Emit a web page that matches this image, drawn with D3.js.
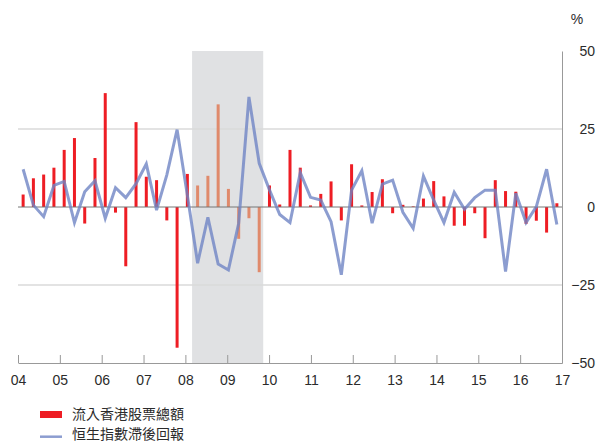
<!DOCTYPE html>
<html>
<head>
<meta charset="utf-8">
<script src="https://cdn.jsdelivr.net/npm/d3@7/dist/d3.min.js"></script>
<style>
  html, body { margin: 0; padding: 0; background: #fff; }
  svg { display: block; }
  .num { font-family: "Liberation Sans", Arial, Helvetica, sans-serif; font-size: 14px; fill: #2b2b2b; }
  .leg { font-family: "Noto Sans CJK TC", "Noto Sans CJK SC", sans-serif; font-size: 14px; fill: #2b2b2b; }
</style>
</head>
<body>
<svg id="chart" width="596" height="443"></svg>
<script>
// Quarters from 2004 Q1 to 2017 Q1
const quarters = [
  "04Q1","04Q2","04Q3","04Q4","05Q1","05Q2","05Q3","05Q4",
  "06Q1","06Q2","06Q3","06Q4","07Q1","07Q2","07Q3","07Q4",
  "08Q1","08Q2","08Q3","08Q4","09Q1","09Q2","09Q3","09Q4",
  "10Q1","10Q2","10Q3","10Q4","11Q1","11Q2","11Q3","11Q4",
  "12Q1","12Q2","12Q3","12Q4","13Q1","13Q2","13Q3","13Q4",
  "14Q1","14Q2","14Q3","14Q4","15Q1","15Q2","15Q3","15Q4",
  "16Q1","16Q2","16Q3","16Q4","17Q1"
];

// Total inflows into Hong Kong equities (bars, %)
const inflows = [
   4.0,  9.2, 10.4, 12.6, 18.3, 22.1, -5.3, 15.7,
  36.5, -1.8,-19.0, 27.2,  9.7,  8.6, -4.3,-45.1,
  10.6,  6.9, 10.0, 32.9,  5.8,-10.2, -3.6,-20.9,
   6.9,  0.8, 18.3, 12.6,  0.5,  4.2,  8.2, -4.3,
  13.7,  0.5,  4.8,  8.9, -2.0,  0.7,  0.2,  2.7,
   8.3,  3.4, -6.0, -6.0, -2.0,-10.0,  8.6,  5.1,
   4.9, -5.4, -4.4, -8.2,  1.2
];

// Lagged Hang Seng Index return (line, %)
const hsiReturn = [
  12.1,  0.6, -3.1,  6.9,  8.2, -5.0,  4.9,  8.4,
  -3.6,  6.2,  3.0,  7.5, 13.8, -1.0, 10.3, 24.8,
   3.8,-18.0, -3.3,-18.3,-20.2, -5.2, 35.3, 14.0,
   5.5, -2.4, -5.0, 11.0,  3.1,  2.2, -4.7,-21.7,
   5.4, 11.6, -5.2,  7.3,  8.6, -1.7, -6.8,  9.9,
   2.2, -5.0,  4.7, -0.7,  3.0,  5.4,  5.4,-20.7,
   4.4, -5.0,  0.1, 12.1, -5.6
];

// Quarters drawn in the crisis colour
const crisisQuarters = ["08Q2","08Q3","08Q4","09Q1","09Q2","09Q3","09Q4"];

// Shaded crisis period, in decimal years
const crisisSpan = [2008.16, 2009.86];

const yearTicks = [2004,2005,2006,2007,2008,2009,2010,2011,2012,2013,2014,2015,2016,2017];
const valueTicks = [-50, -25, 0, 25, 50];

const seriesNames = ["流入香港股票總額", "恒生指數滯後回報"];

const plotLeft = 18, plotRight = 562, plotTop = 51, plotBottom = 363;

const svg = d3.select("#chart");

const x = d3.scaleBand().domain(quarters).range([plotLeft, plotRight]).padding(0);
const xYear = d3.scaleLinear().domain([2004, 2017]).range([plotLeft, plotRight]);
const y = d3.scaleLinear().domain([-50, 50]).range([plotBottom, plotTop]);

// crisis shading
svg.append("rect")
  .attr("x", xYear(crisisSpan[0]))
  .attr("y", y(50))
  .attr("width", xYear(crisisSpan[1]) - xYear(crisisSpan[0]))
  .attr("height", y(-50) - y(50))
  .attr("fill", "#e0e1e3");

// gridlines at ±25
svg.append("g").selectAll("line")
  .data([25, -25])
  .join("line")
  .attr("x1", plotLeft).attr("x2", plotRight)
  .attr("y1", d => y(d)).attr("y2", d => y(d))
  .attr("stroke", "#dadada")
  .attr("stroke-width", 1.5);

// bars
const barW = 3;
svg.append("g").selectAll("rect")
  .data(quarters.map((q, i) => ({ q, v: inflows[i] })))
  .join("rect")
  .attr("x", d => x(d.q) + x.bandwidth() / 2 - barW / 2)
  .attr("width", barW)
  .attr("y", d => y(Math.max(0, d.v)))
  .attr("height", d => Math.abs(y(d.v) - y(0)))
  .attr("fill", d => crisisQuarters.includes(d.q) ? "#e08a6c" : "#ee1d24");

// zero line
svg.append("line")
  .attr("x1", plotLeft).attr("x2", plotRight)
  .attr("y1", y(0)).attr("y2", y(0))
  .attr("stroke", "#777")
  .attr("stroke-width", 1);

// HSI line
const line = d3.line()
  .x((d, i) => x(quarters[i]) + x.bandwidth() / 2)
  .y(d => y(d));
svg.append("path")
  .datum(hsiReturn)
  .attr("d", line)
  .attr("fill", "none")
  .attr("stroke", "rgb(111,132,196)")
  .attr("stroke-opacity", 0.8)
  .attr("stroke-width", 3)
  .attr("stroke-linejoin", "miter");

// bottom axis with inward ticks
const xAxis = d3.axisBottom(xYear)
  .tickValues(yearTicks)
  .tickFormat(d => String(d % 100).padStart(2, "0"))
  .tickSizeInner(-8)
  .tickSizeOuter(0)
  .tickPadding(12);
const gx = svg.append("g")
  .attr("transform", `translate(0,${plotBottom})`)
  .call(xAxis);
gx.attr("font-family", null).attr("font-size", null);
gx.select(".domain").attr("stroke", "#999");
gx.selectAll(".tick line").attr("stroke", "#999");
gx.selectAll(".tick text").attr("class", "num");

// right axis
const yAxis = d3.axisRight(y)
  .tickValues(valueTicks)
  .tickSize(0)
  .tickSizeOuter(0);
const gy = svg.append("g")
  .attr("transform", `translate(${plotRight},0)`)
  .call(yAxis);
gy.attr("font-family", null).attr("font-size", null);
gy.select(".domain").attr("stroke", "#999");
gy.selectAll(".tick text")
  .attr("class", "num")
  .attr("x", 595 - plotRight)
  .attr("text-anchor", "end");

svg.append("text")
  .attr("class", "num")
  .attr("x", 577).attr("y", 24)
  .attr("text-anchor", "middle")
  .text("%");

// legend
const leg = svg.append("g");
leg.append("rect")
  .attr("x", 40).attr("y", 411).attr("width", 22).attr("height", 7)
  .attr("fill", "#ee1d24");
leg.append("text")
  .attr("class", "leg")
  .attr("x", 72).attr("y", 418.5)
  .text(seriesNames[0]);
leg.append("line")
  .attr("x1", 40).attr("x2", 62).attr("y1", 436.7).attr("y2", 436.7)
  .attr("stroke", "rgb(111,132,196)").attr("stroke-opacity", 0.8)
  .attr("stroke-width", 2.5);
leg.append("text")
  .attr("class", "leg")
  .attr("x", 72).attr("y", 438.5)
  .text(seriesNames[1]);
</script>
</body>
</html>
